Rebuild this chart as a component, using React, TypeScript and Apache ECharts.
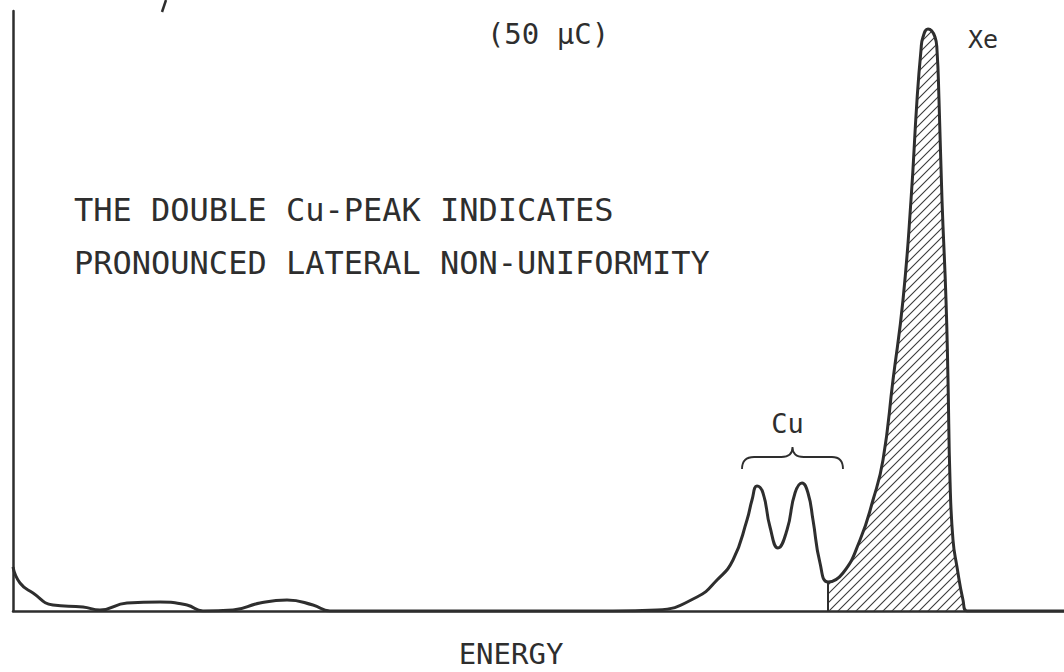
import React, { useEffect, useRef } from "react";
import * as echarts from "echarts";

// Spectrum trace: energy channel (x) and counts (y)
const energy: number[] = [
  0, 7, 20, 40, 70, 87, 114, 147, 174, 190, 220, 247, 274, 300, 317, 400, 500, 600,
  644, 684, 704, 720, 734, 739, 744, 750, 757, 765, 774, 782, 789, 795, 800, 807, 815,
  830, 847, 860, 870, 880, 890, 898, 904, 908, 910, 915, 922, 924, 926, 929, 933, 935,
  937, 940, 944, 950, 954, 1000, 1051,
];
const counts: number[] = [
  44, 28, 18, 6, 4, 1, 8, 9, 6, 0, 1, 8, 11, 6, 0, 0, 0, 0,
  1, 14, 31, 51, 91, 111, 125, 118, 84, 63, 81, 118, 128, 118, 91, 48, 29,
  38, 71, 111, 151, 231, 311, 411, 511, 561, 574, 582, 574, 561, 511, 411, 311, 231,
  131, 71, 44, 11, 0, 0, 0,
];
// The Xe peak region begins at the minimum after the Cu doublet
const xeStart = 815;

const titleText = "(50 μC)";
const noteLines = ["THE DOUBLE Cu-PEAK INDICATES", "PRONOUNCED LATERAL NON-UNIFORMITY"];
const axisTitle = "ENERGY";
const cuLabel = "Cu";
const xeLabel = "Xe";
// Brace over the Cu doublet, in data units
const braceSpan: [number, number] = [729, 830];
const braceBase = 142;

const INK = "#2e2e2e";
const FONT = "DejaVu Sans Mono";

function hatchPattern(): HTMLCanvasElement {
  const c = document.createElement("canvas");
  const s = 9;
  c.width = s;
  c.height = s;
  const g = c.getContext("2d")!;
  g.strokeStyle = "#3a3a3a";
  g.lineWidth = 1.1;
  g.beginPath();
  g.moveTo(-1, s + 1);
  g.lineTo(s + 1, -1);
  g.moveTo(-1, 1);
  g.lineTo(1, -1);
  g.moveTo(s - 1, s + 1);
  g.lineTo(s + 1, s - 1);
  g.stroke();
  return c;
}

const BRACE_D =
  "M0,22 Q0,10 12,10 L39,10 Q50,10 50,0 Q50,10 61,10 L89,10 Q100,10 100,22";

let braceRegistered = false;

export default function App() {
  const ref = useRef<HTMLDivElement>(null);

  useEffect(() => {
    if (!ref.current) return;
    if (!braceRegistered) {
      echarts.graphic.registerShape("brace", echarts.graphic.extendPath(BRACE_D, {}) as any);
      braceRegistered = true;
    }
    const chart = echarts.init(ref.current, undefined, { renderer: "svg" });

    const trace = energy.map((x, i) => [x, counts[i]]);
    const xeTrace = trace.filter((p) => p[0] >= xeStart);
    const xeEdge = [
      [xeStart, 0],
      [xeStart, counts[energy.indexOf(xeStart)]],
    ];

    chart.setOption({
      animation: false,
      backgroundColor: "#ffffff",
      grid: { left: 13, right: 0, top: 11, bottom: 61 },
      xAxis: {
        type: "value",
        min: 0,
        max: 1051,
        axisLine: { show: true, onZero: false, lineStyle: { color: INK, width: 2.5 } },
        axisTick: { show: false },
        axisLabel: { show: false },
        splitLine: { show: false },
      },
      yAxis: {
        type: "value",
        min: 0,
        max: 600,
        axisLine: { show: true, lineStyle: { color: INK, width: 2.5 } },
        axisTick: { show: false },
        axisLabel: { show: false },
        splitLine: { show: false },
      },
      series: [
        {
          type: "line",
          data: xeTrace,
          smooth: 0.5,
          symbol: "none",
          lineStyle: { width: 0 },
          areaStyle: {
            color: { image: hatchPattern(), repeat: "repeat" },
            opacity: 1,
          },
          z: 1,
        },
        {
          type: "line",
          data: xeEdge,
          symbol: "none",
          lineStyle: { color: INK, width: 2 },
          z: 2,
        },
        {
          type: "line",
          data: trace,
          smooth: 0.5,
          symbol: "none",
          lineStyle: { color: INK, width: 3 },
          z: 3,
        },
      ],
    });

    const px = (x: number, y: number) =>
      chart.convertToPixel({ gridIndex: 0 }, [x, y]) as number[];
    const b0 = px(braceSpan[0], braceBase);
    const b1 = px(braceSpan[1], braceBase);
    const braceW = b1[0] - b0[0];
    const braceTop = b0[1] - 22;
    const xePeak = px(915, 582);

    const textStyle = (text: string, size: number) => ({
      text,
      font: `${size}px "${FONT}"`,
      fill: INK,
    });

    chart.setOption({
      graphic: [
        {
          type: "text",
          x: 548,
          y: 34,
          style: { ...textStyle(titleText, 29), textAlign: "center", textVerticalAlign: "middle" },
        },
        {
          type: "text",
          x: 74,
          y: 210,
          style: { ...textStyle(noteLines[0], 32), textAlign: "left", textVerticalAlign: "middle" },
        },
        {
          type: "text",
          x: 74,
          y: 263,
          style: { ...textStyle(noteLines[1], 32), textAlign: "left", textVerticalAlign: "middle" },
        },
        {
          type: "text",
          x: 511,
          y: 654,
          style: { ...textStyle(axisTitle, 29), textAlign: "center", textVerticalAlign: "middle" },
        },
        {
          type: "text",
          x: b0[0] + braceW / 2 - 5,
          y: braceTop - 24,
          style: { ...textStyle(cuLabel, 27), textAlign: "center", textVerticalAlign: "middle" },
        },
        {
          type: "text",
          x: xePeak[0] + 40,
          y: xePeak[1] + 10,
          style: { ...textStyle(xeLabel, 25), textAlign: "left", textVerticalAlign: "middle" },
        },
        {
          type: "brace",
          x: b0[0],
          y: braceTop,
          scaleX: braceW / 100,
          scaleY: 1,
          style: { fill: "none", stroke: INK, lineWidth: 1.8 },
        },
        {
          type: "line",
          shape: { x1: 166, y1: 0, x2: 162, y2: 12 },
          style: { stroke: INK, lineWidth: 2.5 },
        },
      ],
    });

    return () => chart.dispose();
  }, []);

  return (
    <div
      ref={ref}
      style={{ position: "fixed", left: 0, top: 0, width: 1064, height: 672 }}
    />
  );
}
